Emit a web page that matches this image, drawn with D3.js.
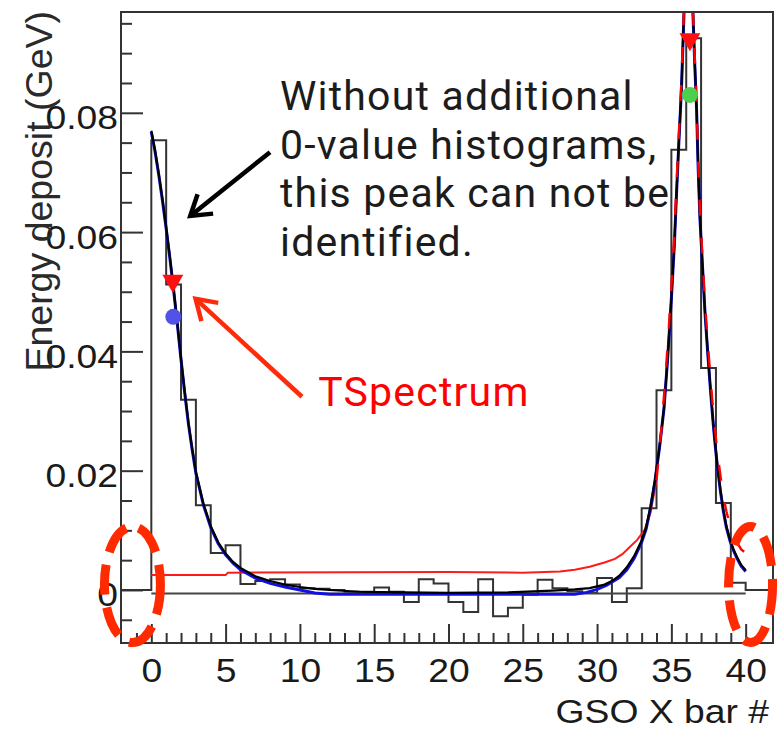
<!DOCTYPE html>
<html>
<head>
<meta charset="utf-8">
<script src="https://cdn.jsdelivr.net/npm/d3@7"></script>
<style>
  html, body { margin: 0; padding: 0; background: #fff; }
  svg { display: block; }
</style>
</head>
<body>
<svg id="chart" width="778" height="729"></svg>
<script>
// ---- histogram: energy deposit per GSO X bar (lower bin edge -> content, GeV)
const binLowEdges = [-2, -1, 0, 1, 2, 3, 4, 5, 6, 7, 8, 9, 10, 11, 12, 13, 14, 15, 16, 17, 18, 19,
  20, 21, 22, 23, 24, 25, 26, 27, 28, 29, 30, 31, 32, 33, 34, 35, 36, 37, 38, 39, 40, 41];
const energyDeposit = [0, 0, 0.0754, 0.0512, 0.0319, 0.0142, 0.0062, 0.0075, 0.0010, 0.0015,
  0.0018, 0.0009, 0.0003, 0.0002, 0.0000, -0.0003, -0.0003, 0.0004, -0.0003, -0.0020, 0.0018,
  0.0011, -0.0020, -0.0037, 0.0018, -0.0044, -0.0030, -0.0008, 0.0017, 0.0003, -0.0002, -0.0005,
  0.0020, -0.0020, 0.0003, 0.0137, 0.0335, 0.0738, 0.0925, 0.0372, 0.0146, 0.0012, 0, 0];

// baseline drawn across the measured bars
const baselineRange = [0, 40];
const baselineLevel = -0.0006;

// ---- fitted curves, [bar #, GeV]
const fitTotal = [[0, 0.0770], [0.25, 0.0737], [0.5, 0.0698], [0.75, 0.0655], [1.0, 0.0608],
  [1.25, 0.0558], [1.5, 0.0505], [1.75, 0.0448], [2.0, 0.0388], [2.25, 0.0332], [2.5, 0.0280],
  [2.75, 0.0237], [3.0, 0.0198], [3.5, 0.0145], [4.0, 0.0107], [4.5, 0.0080], [5.0, 0.0061],
  [5.5, 0.0047], [6.0, 0.0037], [7.0, 0.0023], [8.0, 0.0015], [9.0, 0.0009], [10, 0.0005],
  [11, 0.0002], [12, 0.0000], [14, -0.0003], [17, -0.0004], [20, -0.0005], [24, -0.0004],
  [27, -0.0001], [28.5, 0.0001], [29.5, 0.0003], [30.5, 0.0009], [31.0, 0.0015], [31.5, 0.0024],
  [32.0, 0.0038], [32.5, 0.0057], [33.0, 0.0083], [33.3, 0.0105], [33.6, 0.0140], [33.9, 0.0185],
  [34.2, 0.0240], [34.5, 0.0305], [34.75, 0.0390], [35.0, 0.0490], [35.2, 0.0580], [35.35, 0.0668],
  [35.5, 0.0750], [35.68, 0.0842], [35.85, 0.0969], [36.0, 0.1030], [36.15, 0.1050], [36.3, 0.1030],
  [36.45, 0.0969], [36.58, 0.0880], [36.7, 0.0805], [36.8, 0.0712], [36.92, 0.0626], [37.1, 0.0542],
  [37.27, 0.0464], [37.47, 0.0391], [37.64, 0.0335], [37.8, 0.0285], [37.95, 0.0245], [38.1, 0.0208],
  [38.3, 0.0168], [38.5, 0.0134], [38.7, 0.0107], [38.95, 0.0084], [39.2, 0.0067], [39.4, 0.0056],
  [39.7, 0.0042], [40.0, 0.0033]];

const fitBlue = [[0, 0.0768], [0.25, 0.0735], [0.5, 0.0696], [0.75, 0.0653], [1.0, 0.0606],
  [1.25, 0.0556], [1.5, 0.0503], [1.75, 0.0446], [2.0, 0.0386], [2.25, 0.0330], [2.5, 0.0278],
  [2.75, 0.0235], [3.0, 0.0196], [3.5, 0.0143], [4.0, 0.0105], [4.5, 0.0078], [5.0, 0.0059],
  [5.5, 0.0045], [6.0, 0.0034], [7.0, 0.0020], [8.0, 0.0011], [9.0, 0.0005], [10, 0.0000],
  [11, -0.0005], [12, -0.0007], [20, -0.0007], [28.5, -0.0007], [29.3, -0.0004], [30.0, 0.0001],
  [30.65, 0.0008], [31.5, 0.0021], [32.0, 0.0034], [32.5, 0.0053], [33.0, 0.0080], [33.3, 0.0102],
  [33.6, 0.0138], [33.9, 0.0183], [34.2, 0.0238], [34.5, 0.0303], [34.75, 0.0388], [35.0, 0.0488],
  [35.2, 0.0578], [35.35, 0.0666], [35.5, 0.0748], [35.68, 0.0840], [35.85, 0.0967], [36.0, 0.1028],
  [36.15, 0.1048], [36.3, 0.1028], [36.45, 0.0967], [36.58, 0.0878], [36.7, 0.0803], [36.8, 0.0710],
  [36.92, 0.0624], [37.1, 0.0540], [37.27, 0.0462], [37.47, 0.0389], [37.64, 0.0333], [37.8, 0.0283],
  [37.95, 0.0243], [38.1, 0.0206], [38.3, 0.0166], [38.5, 0.0132], [38.7, 0.0105], [38.95, 0.0082],
  [39.2, 0.0065], [39.4, 0.0054], [39.7, 0.0040], [40.0, 0.0031]];

// TSpectrum background estimate (solid) and its peak part (dashed)
const spectrumBackground = [[0, 0.0025], [5.0, 0.0025], [5.15, 0.0029], [20, 0.0030], [25, 0.0029],
  [27.5, 0.0031], [28.5, 0.0034], [29.5, 0.0039], [30.5, 0.0046], [31.2, 0.0052], [31.7, 0.0060],
  [32.2, 0.0072], [32.7, 0.0084], [33.2, 0.0101], [33.6, 0.0130], [34.0, 0.0184]];
const spectrumPeak = [[34.0, 0.0184], [34.3, 0.0262], [34.55, 0.0340], [34.8, 0.0428], [35.0, 0.0508],
  [35.2, 0.0598], [35.35, 0.0684], [35.5, 0.0764], [35.68, 0.0854], [35.85, 0.0975], [36.0, 0.1035],
  [36.15, 0.1055], [36.3, 0.1035], [36.45, 0.0975], [36.58, 0.0888], [36.7, 0.0815], [36.8, 0.0722],
  [36.92, 0.0638], [37.1, 0.0556], [37.27, 0.0480], [37.47, 0.0408], [37.64, 0.0353], [37.8, 0.0305],
  [37.95, 0.0266], [38.1, 0.0230], [38.3, 0.0192], [38.5, 0.0158], [38.7, 0.0132], [38.95, 0.0108],
  [39.2, 0.0090], [39.4, 0.0080], [39.7, 0.0068], [40.0, 0.0062]];

// peak markers
const tspectrumPeaks = [[1.45, 0.0520], [36.25, 0.0925]];
const bluePeaks = [[1.48, 0.0458]];
const greenPeaks = [[36.25, 0.0830]];

// ---- axes
const xTicks = [0, 5, 10, 15, 20, 25, 30, 35, 40];
const yTicks = [0, 0.02, 0.04, 0.06, 0.08];
const yTickLabels = ["0", "0.02", "0.04", "0.06", "0.08"];
const xTitle = "GSO X bar #";
const yTitle = "Energy deposit (GeV)";

// ---- annotations
const noteLines = ["Without additional", "0-value histograms,", "this peak can not be", "identified."];
const spectrumNote = "TSpectrum";

const svg = d3.select("#chart");
const frame = { left: 121, right: 773, top: 12, bottom: 643 };
const x = d3.scaleLinear().domain([-2.04, 41.84]).range([frame.left, frame.right]);
const y = d3.scaleLinear().domain([-0.00889, 0.0969]).range([frame.bottom, frame.top]);

const numFont = "'Liberation Sans', Arial, Helvetica, sans-serif";
const noteFont = "Roboto, 'Noto Sans', sans-serif";
const stretch = 1.13;

svg.append("defs").append("clipPath").attr("id", "plotClip")
  .append("rect")
  .attr("x", frame.left).attr("y", frame.top)
  .attr("width", frame.right - frame.left).attr("height", frame.bottom - frame.top);

const plot = svg.append("g").attr("clip-path", "url(#plotClip)");

// histogram outline
const histPts = binLowEdges.map((e, i) => [e, energyDeposit[i]]);
histPts.push([binLowEdges[binLowEdges.length - 1] + 1, energyDeposit[energyDeposit.length - 1]]);
plot.append("path")
  .attr("d", d3.line().x(d => x(d[0])).y(d => y(d[1])).curve(d3.curveStepAfter)(histPts))
  .attr("fill", "none").attr("stroke", "#333").attr("stroke-width", 2);

// baseline
plot.append("line")
  .attr("x1", x(baselineRange[0])).attr("x2", x(baselineRange[1]))
  .attr("y1", y(baselineLevel)).attr("y2", y(baselineLevel))
  .attr("stroke", "#444").attr("stroke-width", 2);

const curve = d3.line().x(d => x(d[0])).y(d => y(d[1]));

plot.append("path").attr("d", curve(spectrumBackground))
  .attr("fill", "none").attr("stroke", "#ff1a1a").attr("stroke-width", 2);
plot.append("path").attr("d", curve(fitBlue))
  .attr("fill", "none").attr("stroke", "#1010e0").attr("stroke-width", 3);
plot.append("path").attr("d", curve(fitTotal))
  .attr("fill", "none").attr("stroke", "#000").attr("stroke-width", 2.2);
plot.append("path").attr("d", curve(spectrumPeak))
  .attr("fill", "none").attr("stroke", "#ff0000").attr("stroke-width", 2.4)
  .attr("stroke-dasharray", "16 22");

// markers
plot.selectAll(".tri").data(tspectrumPeaks).join("path")
  .attr("class", "tri")
  .attr("d", d3.symbol(d3.symbolTriangle, 190)())
  .attr("transform", d => `translate(${x(d[0])},${y(d[1]) + 1}) rotate(180)`)
  .attr("fill", "#ff1010");
plot.selectAll(".bdot").data(bluePeaks).join("circle")
  .attr("class", "bdot")
  .attr("cx", d => x(d[0])).attr("cy", d => y(d[1])).attr("r", 8)
  .attr("fill", "#5252e6");
plot.selectAll(".gdot").data(greenPeaks).join("circle")
  .attr("class", "gdot")
  .attr("cx", d => x(d[0])).attr("cy", d => y(d[1])).attr("r", 8)
  .attr("fill", "#4ccf4c");

// frame
svg.append("rect")
  .attr("x", frame.left).attr("y", frame.top)
  .attr("width", frame.right - frame.left).attr("height", frame.bottom - frame.top)
  .attr("fill", "none").attr("stroke", "#333").attr("stroke-width", 2);

// y axis
const gy = svg.append("g").attr("transform", `translate(${frame.left},0)`)
  .call(d3.axisLeft(y).tickValues(yTicks).tickSizeInner(-22).tickSizeOuter(0)
    .tickFormat((d, i) => yTickLabels[i]));
gy.select(".domain").remove();
gy.selectAll("line").attr("stroke", "#333").attr("stroke-width", 2);
gy.selectAll("text")
  .attr("x", null).attr("dy", null)
  .attr("transform", `translate(-3,16) scale(${stretch},1)`)
  .attr("font-family", numFont).attr("font-size", 33).attr("fill", "#1a1a1a");

const yMinor = d3.range(-0.005, 0.0951, 0.005).filter(v => Math.abs(Math.round(v / 0.02) * 0.02 - v) > 1e-6);
const gym = svg.append("g").attr("transform", `translate(${frame.left},0)`)
  .call(d3.axisLeft(y).tickValues(yMinor).tickSizeInner(-11).tickSizeOuter(0).tickFormat(""));
gym.select(".domain").remove();
gym.selectAll("line").attr("stroke", "#333").attr("stroke-width", 2);

// x axis
const gx = svg.append("g").attr("transform", `translate(0,${frame.bottom})`)
  .call(d3.axisBottom(x).tickValues(xTicks).tickSizeInner(-19).tickSizeOuter(0).tickFormat(d3.format("d")));
gx.select(".domain").remove();
gx.selectAll("line").attr("stroke", "#333").attr("stroke-width", 2);
gx.selectAll("text")
  .attr("y", null).attr("dy", null)
  .attr("transform", `translate(0,39) scale(${stretch},1)`)
  .attr("font-family", numFont).attr("font-size", 33).attr("fill", "#1a1a1a");

const xMinor = d3.range(-1, 42).filter(v => v % 5 !== 0);
const gxm = svg.append("g").attr("transform", `translate(0,${frame.bottom})`)
  .call(d3.axisBottom(x).tickValues(xMinor).tickSizeInner(-10).tickSizeOuter(0).tickFormat(""));
gxm.select(".domain").remove();
gxm.selectAll("line").attr("stroke", "#333").attr("stroke-width", 2);

// axis titles
svg.append("text")
  .attr("transform", `translate(769,723) scale(${stretch},1)`)
  .attr("text-anchor", "end")
  .attr("font-family", numFont).attr("font-size", 33).attr("fill", "#1a1a1a")
  .text(xTitle);
svg.append("text")
  .attr("transform", "translate(52,11) rotate(-90)")
  .attr("text-anchor", "end")
  .attr("font-family", numFont).attr("font-size", 37.5).attr("fill", "#2a2a2a")
  .text(yTitle);

// annotation text: one multi-line block
const noteX = x(8.66);
const note = svg.append("text")
  .attr("x", noteX).attr("y", y(0.0805))
  .attr("font-family", noteFont).attr("font-size", 41).attr("letter-spacing", 1.2)
  .attr("fill", "#1c1c1c");
note.selectAll("tspan").data(noteLines).join("tspan")
  .attr("x", noteX)
  .attr("dy", (d, i) => i === 0 ? 0 : 48.7)
  .text(d => d);
svg.append("text")
  .attr("x", x(11.23)).attr("y", y(0.0308))
  .attr("font-family", noteFont).attr("font-size", 41).attr("letter-spacing", 1.2)
  .attr("fill", "#ff0000")
  .text(spectrumNote);

// arrows
function arrow(from, to, color) {
  const x0 = x(from[0]), y0 = y(from[1]), x1 = x(to[0]), y1 = y(to[1]);
  const ang = Math.atan2(y0 - y1, x0 - x1);
  const len = 23, spread = Math.PI / 5.5;
  const a1 = [x1 + len * Math.cos(ang - spread), y1 + len * Math.sin(ang - spread)];
  const a2 = [x1 + len * Math.cos(ang + spread), y1 + len * Math.sin(ang + spread)];
  const g = svg.append("g").attr("stroke", color).attr("stroke-width", 4.5)
    .attr("fill", "none").attr("stroke-linecap", "butt");
  g.append("line").attr("x1", x0).attr("y1", y0).attr("x2", x1).attr("y2", y1);
  g.append("path").attr("d", `M${a1[0]},${a1[1]}L${x1},${y1}L${a2[0]},${a2[1]}`)
    .attr("stroke-linejoin", "miter");
}
arrow([7.99, 0.0734], [2.62, 0.0627], "#000");
arrow([10.14, 0.0324], [2.98, 0.0488], "#ff2a0a");

// dashed highlight ellipses around the empty end bins
const highlights = [[-1.27, 0.0009, 28, 58], [40.33, 0.0009, 22, 58]];
svg.selectAll(".hl").data(highlights).join("ellipse")
  .attr("class", "hl")
  .attr("cx", d => x(d[0])).attr("cy", d => y(d[1]))
  .attr("rx", d => d[2]).attr("ry", d => d[3])
  .attr("fill", "none").attr("stroke", "#ff2a00").attr("stroke-width", 9)
  .attr("stroke-dasharray", "30 13");
</script>
</body>
</html>
